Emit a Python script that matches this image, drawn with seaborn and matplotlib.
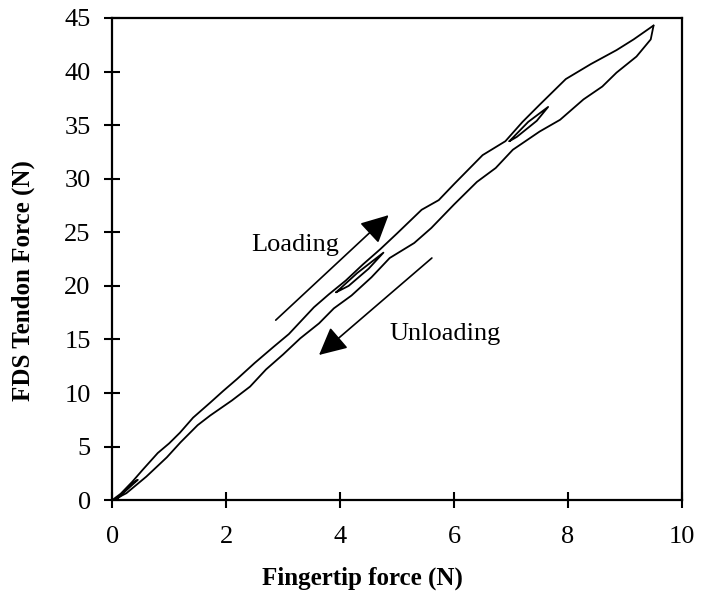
import matplotlib
matplotlib.use("Agg")
import matplotlib.pyplot as plt
import seaborn as sns
import pandas as pd

# Loading branch (upper-left curve), fingertip force (N) vs FDS tendon force (N)
load_x = [0, 0.15, 0.35, 0.53, 0.8, 1.0, 1.19, 1.42, 1.72, 1.95, 2.19, 2.5, 2.83, 3.1,
          3.54, 3.8, 4.1, 4.4, 4.7, 5.0, 5.43, 5.73, 6.0, 6.5, 6.9, 7.2, 7.5, 7.96,
          8.4, 8.85, 9.15, 9.5]
load_y = [0, 0.6, 1.7, 2.8, 4.4, 5.3, 6.3, 7.7, 9.1, 10.2, 11.3, 12.8, 14.3, 15.5,
          18.0, 19.2, 20.5, 22.0, 23.4, 24.9, 27.1, 28.0, 29.5, 32.2, 33.5, 35.3, 36.9, 39.3,
          40.7, 42.0, 43.0, 44.3]

# Unloading branch (lower-right curve), from the peak back to zero
unload_x = [9.5, 9.45, 9.2, 8.85, 8.6, 8.27, 7.86, 7.5, 7.03, 6.73, 6.4, 6.0, 5.6, 5.3,
            4.87, 4.55, 4.2, 3.89, 3.63, 3.3, 3.0, 2.7, 2.42, 2.1, 1.72, 1.5, 1.2, 0.96,
            0.6, 0.25, 0.05]
unload_y = [44.3, 43.0, 41.4, 39.9, 38.6, 37.4, 35.5, 34.4, 32.7, 31.0, 29.7, 27.6, 25.4, 24.0,
            22.6, 20.8, 19.1, 17.9, 16.5, 15.1, 13.6, 12.2, 10.6, 9.3, 7.9, 7.0, 5.4, 4.0,
            2.2, 0.65, 0.1]

# Small inner loops
loopA_x = [6.97, 7.3, 7.65, 7.45, 7.1, 6.97]
loopA_y = [33.5, 35.3, 36.7, 35.4, 33.9, 33.5]
loopB_x = [3.93, 4.3, 4.76, 4.5, 4.15, 3.93]
loopB_y = [19.4, 21.2, 23.1, 21.6, 20.0, 19.4]
loopC_x = [0.1, 0.45, 0.35, 0.15, 0.1]
loopC_y = [0.2, 1.9, 1.6, 0.4, 0.2]

x_ticks = [0, 2, 4, 6, 8, 10]
y_ticks = [0, 5, 10, 15, 20, 25, 30, 35, 40, 45]

segments = [("load", load_x, load_y), ("unload", unload_x, unload_y),
            ("loopA", loopA_x, loopA_y), ("loopB", loopB_x, loopB_y),
            ("loopC", loopC_x, loopC_y)]
rows = []
for name, xs, ys in segments:
    for i, (a, b) in enumerate(zip(xs, ys)):
        rows.append({"seg": name, "order": i, "x": a, "y": b})
df = pd.DataFrame(rows)

sns.set_theme(style="white")
plt.rcParams["font.family"] = ["Liberation Serif", "DejaVu Serif"]
plt.rcParams["text.color"] = "black"
plt.rcParams["axes.labelcolor"] = "black"

fig = plt.figure(figsize=(7.01, 5.99), dpi=100)
ax = fig.add_axes([0.16, 0.165, 0.813, 0.805])

sns.lineplot(data=df, x="x", y="y", units="seg", estimator=None, sort=False,
             color="black", linewidth=1.3, ax=ax, legend=False)

ax.set_xlim(0, 10)
ax.set_ylim(0, 45)
ax.set_xticks(x_ticks)
ax.set_yticks(y_ticks)
ax.set_xticklabels([str(v) for v in x_ticks])
ax.set_yticklabels([str(v) for v in y_ticks])

for s in ax.spines.values():
    s.set_color("black")
    s.set_linewidth(1.6)
    s.set_visible(True)

ax.tick_params(axis="both", direction="inout", length=11, width=1.5,
               colors="black", labelcolor="black", labelsize=19)
ax.tick_params(axis="x", pad=13)
ax.tick_params(axis="y", pad=10)
ax.tick_params(top=False, right=False, bottom=True, left=True)

ax.set_xlabel("Fingertip force (N)", fontsize=18, fontweight="bold", color="black")
ax.set_ylabel("FDS Tendon Force (N)", fontsize=18, fontweight="bold", color="black")
ax.xaxis.set_label_coords(0.44, -0.137)
ax.yaxis.set_label_coords(-0.135, 0.456)

arrow_kw = dict(arrowstyle="-|>,head_length=1.0,head_width=0.5", color="black",
                lw=1.2, mutation_scale=17, shrinkA=0, shrinkB=0)
ax.annotate("", xy=(4.85, 26.6), xytext=(2.87, 16.8), arrowprops=arrow_kw)
ax.annotate("", xy=(3.63, 13.55), xytext=(5.61, 22.6), arrowprops=arrow_kw)

ax.text(2.44, 23.8, "Loading", fontsize=19, ha="left", va="center", color="black")
ax.text(4.87, 15.5, "Unloading", fontsize=19, ha="left", va="center", color="black")

fig.savefig("out.png", dpi=100, facecolor="white")
